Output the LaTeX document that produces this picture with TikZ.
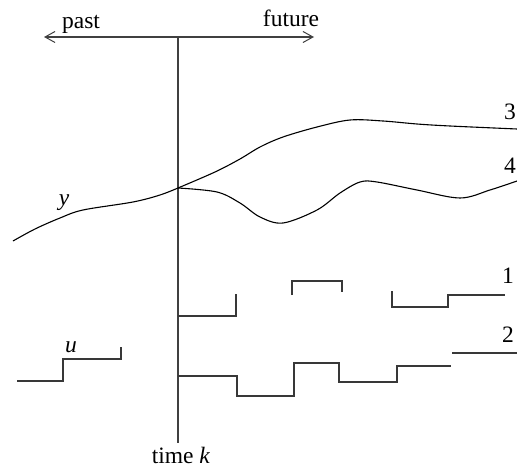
\documentclass[tikz,border=0pt]{standalone}
\usepackage{fontspec}
\setmainfont{Liberation Serif}
\usetikzlibrary{arrows.meta}
\begin{document}
\begin{tikzpicture}[x=1pt,y=-1pt,
  axis/.style={line width=1.1pt,draw=black!75},
  timearrow/.style={axis,-{Straight Barb[length=10pt,width=11pt,line width=1pt]}},
  response/.style={line width=1.1pt,black,line join=round},
  stairs/.style={line width=1.2pt,draw=black!78},
  lbl/.style={inner sep=0pt,anchor=base,font=\fontsize{23.5}{26}\selectfont}]
  \useasboundingbox (0,0) rectangle (517,468);

  % time axis and the present instant k
  \coordinate (now) at (178,37);
  \coordinate (pastend) at (44,37);
  \coordinate (futend) at (314,37);
  \coordinate (kfoot) at (178,443);
  \draw[timearrow] (now) -- (pastend);
  \draw[timearrow] (now) -- (futend);
  \draw[axis] (now) -- (kfoot);
  \node[lbl] (past) at (81,29) {past};
  \node[lbl] (future) at (291,27) {future};
  \node[lbl] (timek) at (181,463) {time \textit{k}};

  % measured output up to time k
  \coordinate (yk) at (178,188);
  \draw[response] plot[smooth,tension=0.55] coordinates
    {(13,241) (35,229) (60,218) (83,210) (133,202) (160,195) (178,188)};
  \node[lbl] (ylbl) at (64,205) {\textit{y}};

  % predicted outputs 3 and 4
  \draw[response] plot[smooth,tension=0.55] coordinates
    {(178,188) (215,172) (240,159) (260,147) (283,137) (317,127) (350,120)
     (383,121) (417,124) (450,126) (517,129)};
  \draw[response] plot[smooth,tension=0.55] coordinates
    {(178,188) (217,192) (240,203) (260,217) (283,223) (317,210) (340,193)
     (360,182) (377,182) (417,190) (460,198) (490,190) (517,181)};
  \node[lbl] (three) at (510,120) {3};
  \node[lbl] (four) at (510,174) {4};

  % past input u
  \draw[stairs] (17,381) -- (63,381) -- (63,359) -- (121,359) -- (121,347);
  \node[lbl] (ulbl) at (71,352) {\textit{u}};

  % future input 1
  \draw[stairs] (178,316) -- (236,316) -- (236,294);
  \draw[stairs] (292,295) -- (292,281) -- (342,281) -- (342,292);
  \draw[stairs] (392,291) -- (392,307) -- (448,307) -- (448,295) -- (505,295);
  \node[lbl] (one) at (508,283) {1};

  % future input 2
  \draw[stairs] (178,376) -- (237,376) -- (237,396) -- (294,396) -- (294,363)
    -- (339,363) -- (339,382) -- (397,382) -- (397,366) -- (451,366);
  \draw[stairs] (452,353) -- (517,353);
  \node[lbl] (two) at (508,342) {2};
\end{tikzpicture}
\end{document}
